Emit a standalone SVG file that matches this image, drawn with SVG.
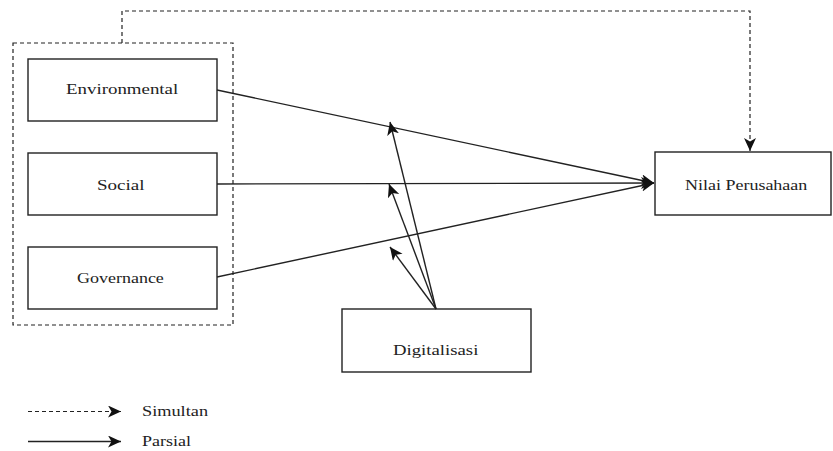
<svg xmlns="http://www.w3.org/2000/svg" width="833" height="451" viewBox="0 0 833 451">
<style>
.box{fill:#fff;stroke:#222;stroke-width:1.4}
.grp{fill:none;stroke:#222;stroke-width:1.2;stroke-dasharray:4 3}
.t{font-family:"Liberation Serif","Times New Roman",serif;font-size:15px;fill:#222}
.ln{fill:none;stroke:#222;stroke-width:1.4}
.dl{fill:none;stroke:#222;stroke-width:1.2;stroke-dasharray:4 3}
</style>
<defs>
<marker id="ah" markerUnits="userSpaceOnUse" markerWidth="16" markerHeight="14" refX="13" refY="6" orient="auto">
<path d="M0,0 L13,6 L0,12 L3.5,6 z" fill="#111"/>
</marker>
</defs>
<rect width="833" height="451" fill="#fff"/>
<g id="group-esg">
<rect class="grp" x="13" y="43" width="220" height="282"/>
</g>
<g id="environmental">
<rect class="box" x="28" y="59" width="189" height="62"/>
<text class="t" transform="translate(66,94) scale(1.26,1)">Environmental</text>
</g>
<g id="social">
<rect class="box" x="28" y="153" width="189" height="62"/>
<text class="t" transform="translate(97,190) scale(1.27,1)">Social</text>
</g>
<g id="governance">
<rect class="box" x="28" y="247" width="189" height="62"/>
<text class="t" transform="translate(77,283) scale(1.2,1)">Governance</text>
</g>
<g id="nilai">
<rect class="box" x="655" y="152" width="176" height="63"/>
<text class="t" transform="translate(685,190) scale(1.2,1)">Nilai Perusahaan</text>
</g>
<g id="digitalisasi">
<rect class="box" x="342" y="309" width="189" height="63"/>
<text class="t" transform="translate(393,355) scale(1.25,1)">Digitalisasi</text>
</g>
<g id="connectors">
<path class="dl" d="M122,43 V11 H750 V151" marker-end="url(#ah)"/>
<path class="ln" d="M217,90 L654,183" marker-end="url(#ah)"/>
<path class="ln" d="M217,184 L654,183" marker-end="url(#ah)"/>
<path class="ln" d="M217,277 L654,183" marker-end="url(#ah)"/>
<path class="ln" d="M436,309 L390,122" marker-end="url(#ah)"/>
<path class="ln" d="M436,309 L389,184" marker-end="url(#ah)"/>
<path class="ln" d="M436,309 L390,247" marker-end="url(#ah)"/>
</g>
<g id="legend">
<path class="dl" d="M28,411.5 H121" marker-end="url(#ah)"/>
<path class="ln" d="M28,441.5 H121" marker-end="url(#ah)"/>
<text class="t" transform="translate(142,416) scale(1.22,1)">Simultan</text>
<text class="t" transform="translate(142,446) scale(1.2,1)">Parsial</text>
</g>
</svg>
